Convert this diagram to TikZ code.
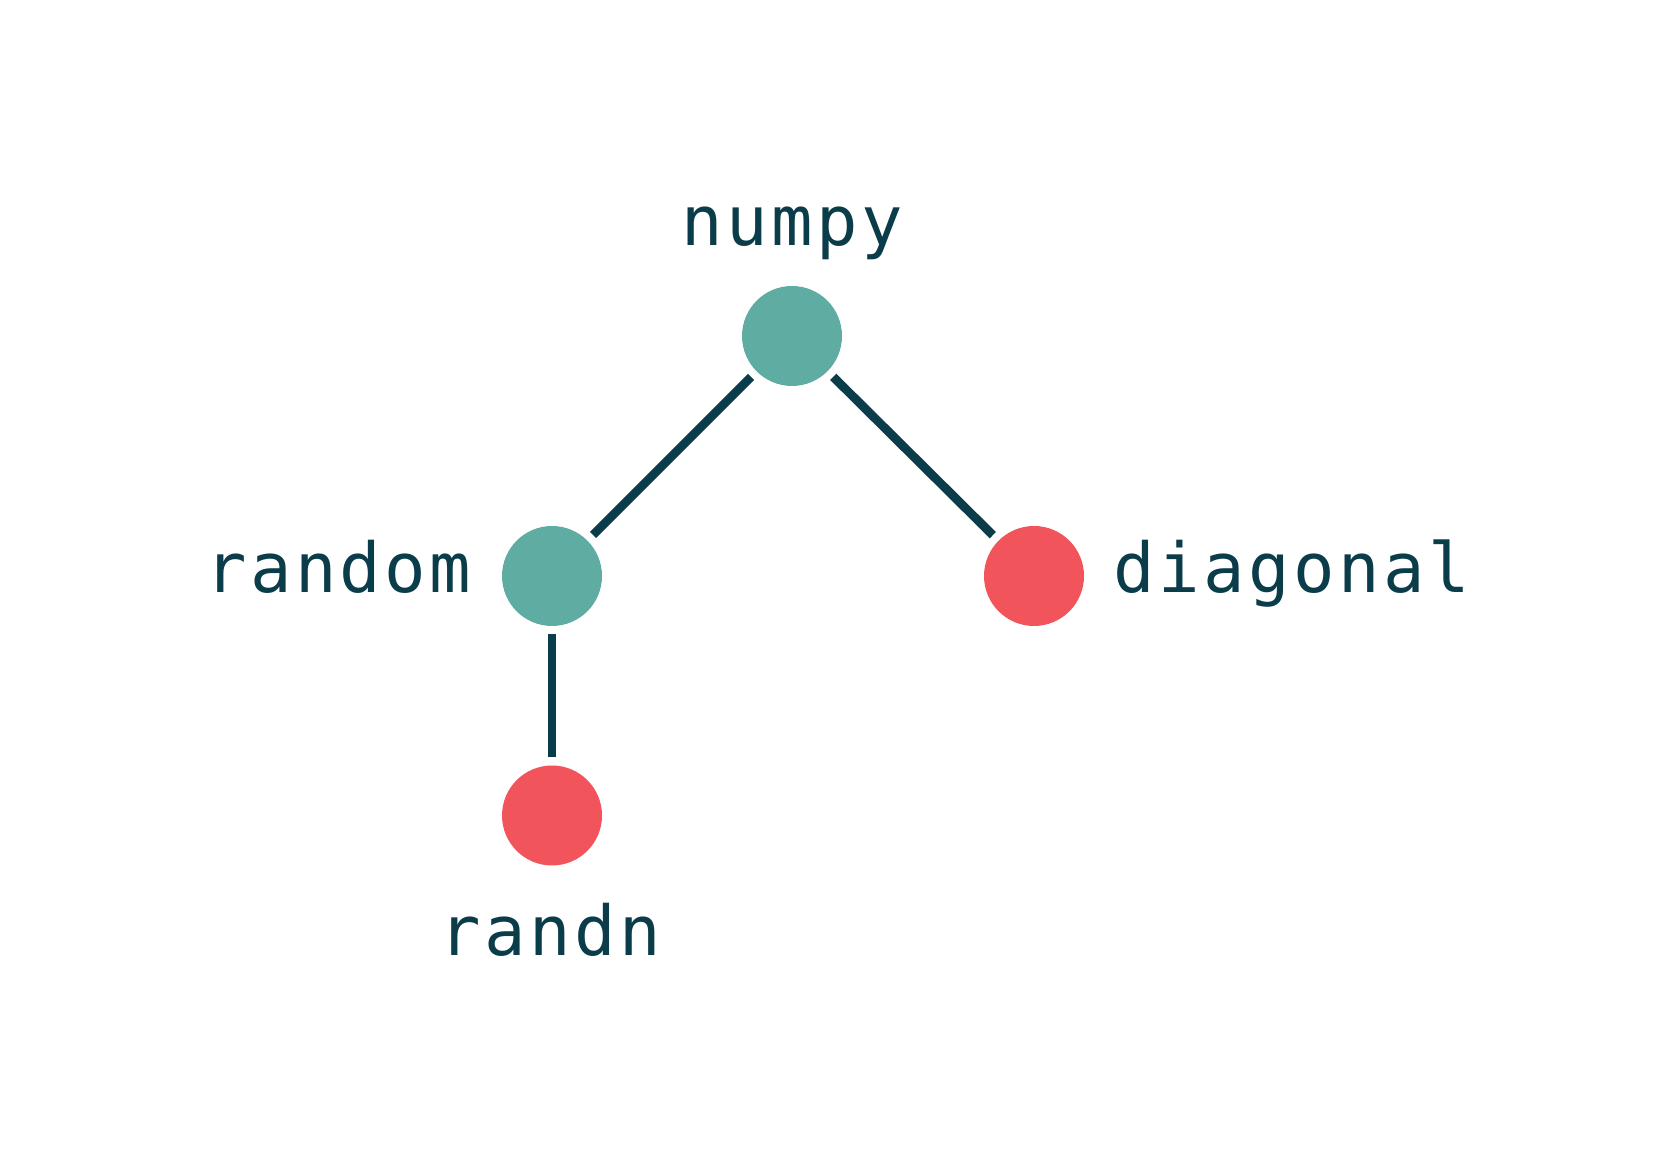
\documentclass[tikz,border=0pt]{standalone}
\usepackage{fontspec}
\usetikzlibrary{positioning}
\newfontfamily\treefont[LetterSpace=5]{DejaVu Sans Mono}
\definecolor{ink}{HTML}{0B3C49}
\definecolor{pkgcol}{HTML}{5FACA3}
\definecolor{fncol}{HTML}{F2545B}

\begin{document}
\begin{tikzpicture}[
  line cap=butt,
  pkg/.style={circle, fill=pkgcol, minimum size=1.0cm, inner sep=0pt, outer sep=0.08cm},
  fn/.style={pkg, fill=fncol},
  lbl/.style={font=\treefont\fontsize{19.6}{22}\selectfont, text=ink, inner sep=0pt},
  edge/.style={ink, line width=2.5pt}]

\useasboundingbox (0,0) rectangle (16.78,11.52);

\node[pkg] (numpy) at (7.92,8.16) {};
\node[pkg] (random) at (5.52,5.76) {};
\node[fn] (diagonal) at (10.34,5.76) {};
\node[fn] (randn) at (5.52,3.365) {};

\draw[edge] (numpy) -- (random);
\draw[edge] (numpy) -- (diagonal);
\draw[edge] (random) -- (randn);

\node[lbl, anchor=base] (numpylbl) at (7.92,9.06) {numpy};
\node[lbl, anchor=base east] (randomlbl) at (4.72,5.59) {random};
\node[lbl, anchor=base west] (diagonallbl) at (11.13,5.59) {diagonal};
\node[lbl, anchor=base] (randnlbl) at (5.50,1.97) {randn};

\end{tikzpicture}
\end{document}
